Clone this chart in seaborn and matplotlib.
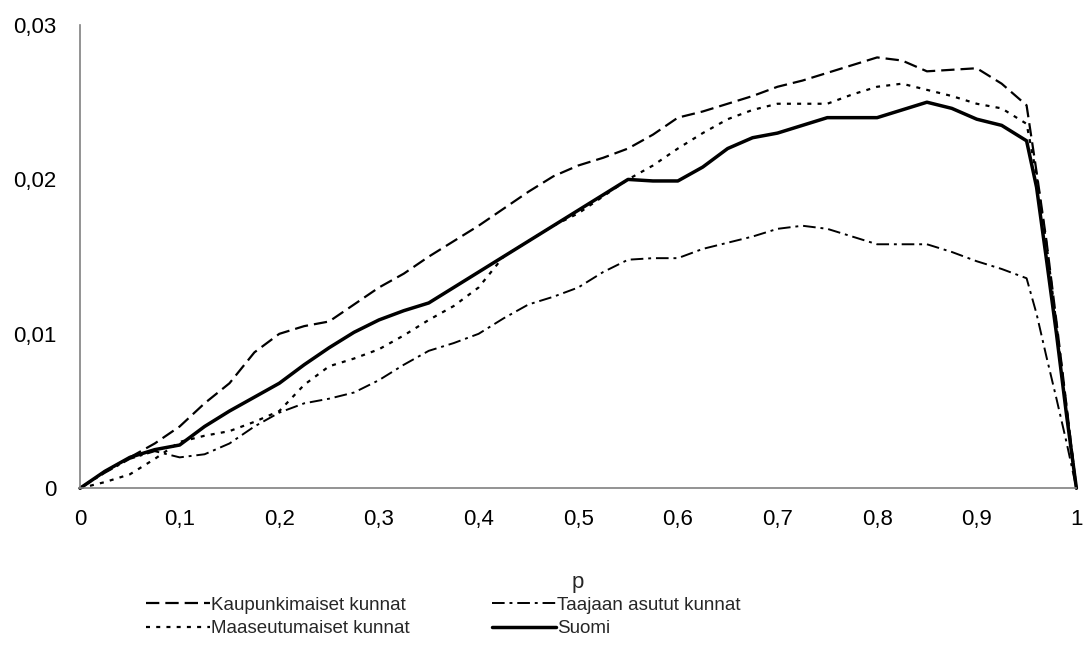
import matplotlib
matplotlib.use("Agg")
import matplotlib.pyplot as plt
import seaborn as sns
from matplotlib.ticker import FuncFormatter

# x grid (p)
p = [0.0, 0.025, 0.05, 0.075, 0.1, 0.125, 0.15, 0.175, 0.2, 0.225,
     0.25, 0.275, 0.3, 0.325, 0.35, 0.375, 0.4, 0.425, 0.45, 0.475,
     0.5, 0.525, 0.55, 0.575, 0.6, 0.625, 0.65, 0.675, 0.7, 0.725,
     0.75, 0.775, 0.8, 0.825, 0.85, 0.875, 0.9, 0.925, 0.95,
     0.96, 0.97, 0.98, 0.99, 1.0]

kaupunki = [0, 0.0011, 0.0020, 0.0029, 0.0040, 0.0055, 0.0068, 0.0088, 0.0100, 0.0105,
            0.0108, 0.0119, 0.0130, 0.0139, 0.0150, 0.0160, 0.0170, 0.0181, 0.0192, 0.0202,
            0.0209, 0.0214, 0.0220, 0.0229, 0.0240, 0.0244, 0.0249, 0.0254, 0.0260, 0.0264,
            0.0269, 0.0274, 0.0279, 0.0277, 0.0270, 0.0271, 0.0272, 0.0262, 0.0248,
            0.0205, 0.0160, 0.0108, 0.0054, 0]

taajaan = [0, 0.0010, 0.0019, 0.0024, 0.0020, 0.0022, 0.0029, 0.0040, 0.0049, 0.0055,
           0.0058, 0.0062, 0.0070, 0.0080, 0.0089, 0.0094, 0.0100, 0.0110, 0.0119, 0.0124,
           0.0130, 0.0140, 0.0148, 0.0149, 0.0149, 0.0155, 0.0159, 0.0163, 0.0168, 0.0170,
           0.0168, 0.0163, 0.0158, 0.0158, 0.0158, 0.0153, 0.0147, 0.0142, 0.0136,
           0.0113, 0.0085, 0.0058, 0.0030, 0]

maaseutu = [0, 0.0004, 0.0009, 0.0019, 0.0030, 0.0034, 0.0037, 0.0043, 0.0050, 0.0067,
            0.0079, 0.0084, 0.0090, 0.0099, 0.0109, 0.0118, 0.0130, 0.0150, 0.0160, 0.0170,
            0.0178, 0.0189, 0.0200, 0.0209, 0.0220, 0.0230, 0.0239, 0.0245, 0.0249, 0.0249,
            0.0249, 0.0255, 0.0260, 0.0262, 0.0258, 0.0254, 0.0249, 0.0246, 0.0236,
            0.0203, 0.0158, 0.0106, 0.0053, 0]

suomi = [0, 0.0011, 0.0020, 0.0025, 0.0028, 0.0040, 0.0050, 0.0059, 0.0068, 0.0080,
         0.0091, 0.0101, 0.0109, 0.0115, 0.0120, 0.0130, 0.0140, 0.0150, 0.0160, 0.0170,
         0.0180, 0.0190, 0.0200, 0.0199, 0.0199, 0.0208, 0.0220, 0.0227, 0.0230, 0.0235,
         0.0240, 0.0240, 0.0240, 0.0245, 0.0250, 0.0246, 0.0239, 0.0235, 0.0225,
         0.0195, 0.0148, 0.0100, 0.0048, 0]

x_ticks = [0, 0.1, 0.2, 0.3, 0.4, 0.5, 0.6, 0.7, 0.8, 0.9, 1.0]
y_ticks = [0, 0.01, 0.02, 0.03]

sns.set_style("white")
plt.rcParams['font.family'] = ['Liberation Sans', 'DejaVu Sans']

fig = plt.figure(figsize=(10.83, 6.51), dpi=100)
ax = fig.add_axes([0.0739, 0.25, 0.9200, 0.7116])

series = [
    ("Kaupunkimaiset kunnat", kaupunki, 1.6, (6, 2.7)),
    ("Maaseutumaiset kunnat", maaseutu, 1.6, (1.8, 2.8)),
    ("Taajaan asutut kunnat", taajaan, 1.4, (6.5, 2.5, 1.5, 2.5)),
    ("Suomi", suomi, 2.5, None),
]
for label, vals, lw, dash in series:
    sns.lineplot(x=p, y=vals, ax=ax, color="black", lw=lw, clip_on=False)
    line = ax.lines[-1]
    line.set_label(label)
    if dash is not None:
        line.set_dashes(dash)
if ax.get_legend() is not None:
    ax.get_legend().remove()

ax.set_xlim(0, 1)
ax.set_ylim(0, 0.03)
ax.set_xticks(x_ticks)
ax.set_yticks(y_ticks)
comma = FuncFormatter(lambda v, pos: ("%g" % round(v, 3)).replace(".", ","))
ax.xaxis.set_major_formatter(comma)
ax.yaxis.set_major_formatter(comma)

for s in ["top", "right"]:
    ax.spines[s].set_visible(False)
for s in ["left", "bottom"]:
    ax.spines[s].set_color("#808080")
    ax.spines[s].set_linewidth(1.2)
ax.tick_params(axis="both", direction="out", length=7, width=1.2,
               color="#808080", labelsize=16, labelcolor="black")
ax.tick_params(axis="y", pad=10)
ax.tick_params(axis="x", pad=8)
ax.set_xlabel("p", fontsize=16, labelpad=30)
ax.set_ylabel("")

handles = list(ax.lines[:4])
labels = [h.get_label() for h in handles]
fig.legend(handles, labels, ncol=2, loc="upper left",
           bbox_to_anchor=(0.128, 0.1 - 0.005), frameon=False,
           fontsize=13.5, handlelength=3.4, handletextpad=0.05,
           columnspacing=4.4, labelspacing=0.35, borderaxespad=0)

fig.savefig("out.png", dpi=100)
